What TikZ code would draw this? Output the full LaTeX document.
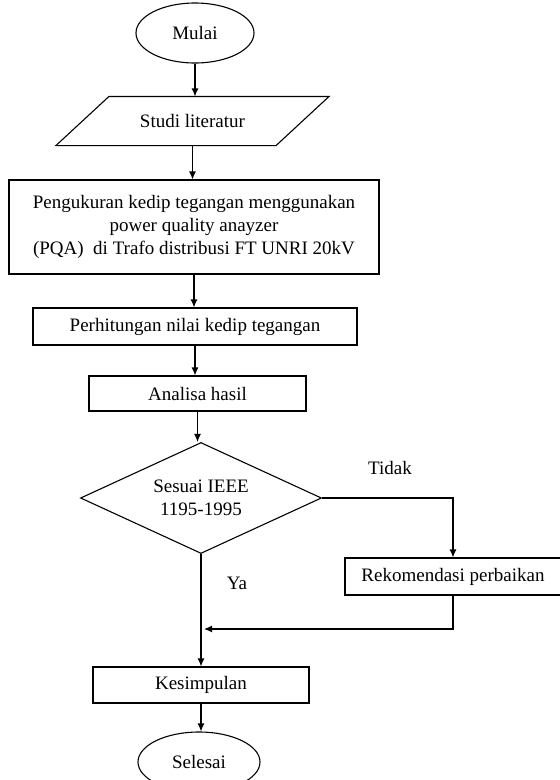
\documentclass[tikz,border=0pt]{standalone}
\usepackage{fontspec}
\setmainfont{Liberation Serif}
\usetikzlibrary{shapes.geometric,arrows.meta}

\begin{document}
\begin{tikzpicture}[
        x=1pt,y=1pt,
        >={Latex[length=8pt,width=7pt]},
        line width=1.1pt,
        every node/.style={font=\fontsize{19}{23}\selectfont,inner sep=0pt},
        terminal/.style={ellipse,draw,minimum width=118pt,minimum height=60pt},
        process/.style={rectangle,draw,align=center},
        decision/.style={diamond,draw,aspect=2.17,minimum width=241pt,minimum height=111pt,align=center},
        label/.style={}
    ]

    \useasboundingbox (0,0) rectangle (560,-780);
    \clip (0,0) rectangle (560,-780);

    % Start and literature
    \node[terminal] (mulai) at (195,-33) {Mulai};
    \node[minimum width=219pt,minimum height=48pt] (studi) at (192.5,-121) {Studi literatur};
    \draw ([xshift=26.5pt]studi.north west) -- ([xshift=26.5pt]studi.north east)
        -- ([xshift=-26.5pt]studi.south east) -- ([xshift=-26.5pt]studi.south west) -- cycle;

    % Measurement and calculation
    \node[process,minimum width=370pt,minimum height=94pt] (ukur) at (194,-227)
        {Pengukuran kedip tegangan menggunakan\\power quality anayzer\\(PQA)\ \ di Trafo distribusi FT UNRI 20kV};
    \node[process,minimum width=324pt,minimum height=37pt] (hitung) at (195,-326.5)
        {Perhitungan nilai kedip tegangan};
    \node[process,minimum width=217pt,minimum height=35pt] (analisa) at (197.5,-393.5)
        {Analisa hasil};

    % Decision
    \node[decision] (sesuai) at (201,-498) {Sesuai IEEE\\1195-1995};
    \node[process,minimum width=216pt,minimum height=37pt] (rekom) at (453,-576.5)
        {Rekomendasi perbaikan};
    \coordinate (gabung) at (204,-629);

    % End
    \node[process,minimum width=216pt,minimum height=36pt] (simpul) at (201,-685)
        {Kesimpulan};
    \node[terminal,minimum width=122pt] (selesai) at (199,-762) {Selesai};

    % Labels
    \node[label] (tidak) at (390,-468) {Tidak};
    \node[label] (ya) at (237,-583) {Ya};

    % Connectors
    \draw[->] (mulai.south) -- (mulai.south |- studi.north);
    \draw[->] (studi.south) -- (studi.south |- ukur.north);
    \draw[->] (ukur.south) -- (ukur.south |- hitung.north);
    \draw[->] (hitung.south) -- (hitung.south |- analisa.north);
    \draw[->] (analisa.south) -- (analisa.south |- sesuai.north);
    \draw[->] (sesuai.east) -| (rekom.north);
    \draw[->] (rekom.south) |- (gabung);
    \draw[->] (sesuai.south) -- (sesuai.south |- simpul.north);
    \draw[->] (simpul.south) -- (simpul.south |- selesai.north);

\end{tikzpicture}
\end{document}
